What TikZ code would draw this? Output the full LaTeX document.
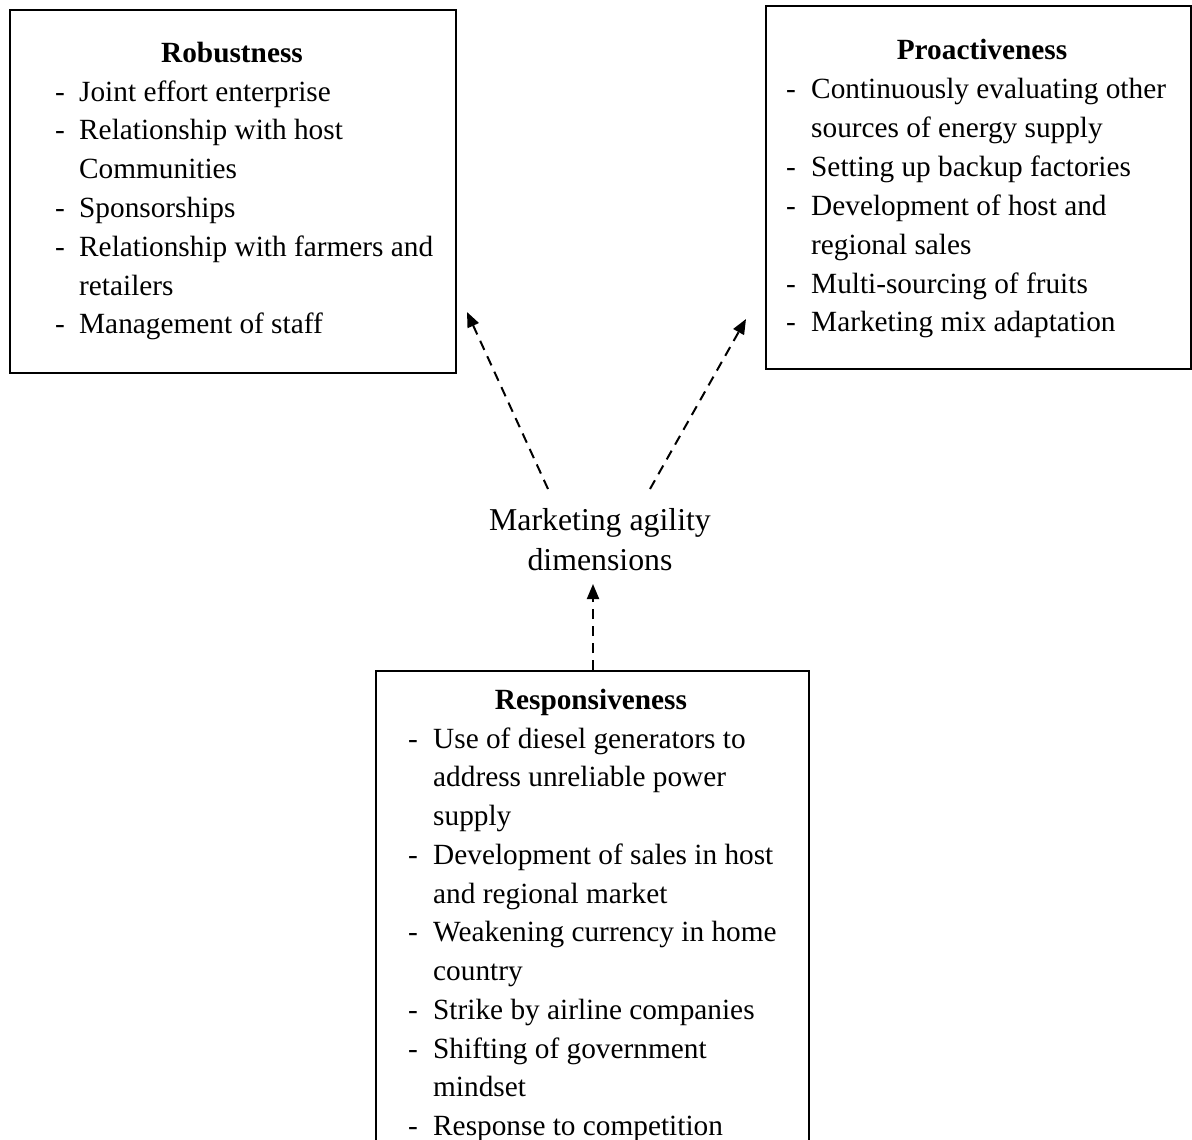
\documentclass[tikz,border=0pt]{standalone}
\usepackage{fontspec}
\setmainfont{Liberation Serif}
\usetikzlibrary{arrows.meta}
\begin{document}
\begin{tikzpicture}[x=1pt,y=-1pt,
  txt/.style={anchor=base west,inner sep=0pt,font=\fontsize{29.3}{35}\selectfont},
  ttl/.style={anchor=base,inner sep=0pt,font=\fontsize{29.3}{35}\selectfont\bfseries},
  box/.style={draw,line width=2.4pt,anchor=north west,inner sep=0pt},
  arr/.style={line width=2pt,dash pattern=on 10pt off 7pt,-{Triangle[length=15pt,width=12pt]}}]
\clip (0,0) rectangle (1192,1140);
\fill[white] (0,0) rectangle (1192,1140);
% boxes
\node[box,minimum width=446pt,minimum height=363pt] (robbox) at (9,9) {};
\node[box,minimum width=425pt,minimum height=363pt] (probox) at (765,5) {};
\node[box,minimum width=433pt,minimum height=500pt] (resbox) at (375,670) {};
% Robustness
\node[ttl] (robt) at (232,63) {Robustness};
\foreach \dsh/\t [count=\i] in {1/Joint effort enterprise,1/Relationship with host,0/Communities,1/Sponsorships,1/Relationship with farmers and,0/retailers,1/Management of staff}{
  \node[txt] (rob\i) at (79,{101+(\i-1)*38.8}) {\t};
  \ifnum\dsh=1 \node[txt] (robd\i) at (55,{101+(\i-1)*38.8}) {-};\fi
}
% Proactiveness
\node[ttl] (prot) at (982,60) {Proactiveness};
\foreach \dsh/\t [count=\i] in {1/Continuously evaluating other,0/sources of energy supply,1/Setting up backup factories,1/Development of host and,0/regional sales,1/Multi-sourcing of fruits,1/Marketing mix adaptation}{
  \node[txt] (pro\i) at (811,{99+(\i-1)*38.8}) {\t};
  \ifnum\dsh=1 \node[txt] (prod\i) at (786,{99+(\i-1)*38.8}) {-};\fi
}
% Responsiveness
\node[ttl] (rest) at (591,709) {Responsiveness};
\foreach \dsh/\t [count=\i] in {1/Use of diesel generators to,0/address unreliable power,0/supply,1/Development of sales in host,0/and regional market,1/Weakening currency in home,0/country,1/Strike by airline companies,1/Shifting of government,0/mindset,1/Response to competition}{
  \node[txt] (res\i) at (433,{748+(\i-1)*38.75}) {\t};
  \ifnum\dsh=1 \node[txt] (resd\i) at (408,{748+(\i-1)*38.75}) {-};\fi
}
% centre label
\node[inner sep=0pt,align=center,font=\fontsize{31.8}{40}\selectfont,anchor=base] (mad) at (600,570) {Marketing agility\\dimensions};
\coordinate (lt) at (467,312);
\coordinate (rt) at (746,319);
\coordinate (bt) at (593,584);
\coordinate (ls) at (548,489);
\coordinate (rs) at (650,489);
\draw[arr] (ls) -- (lt);
\draw[arr] (rs) -- (rt);
\draw[arr] (resbox.north west -| bt) -- (bt);
\end{tikzpicture}
\end{document}
